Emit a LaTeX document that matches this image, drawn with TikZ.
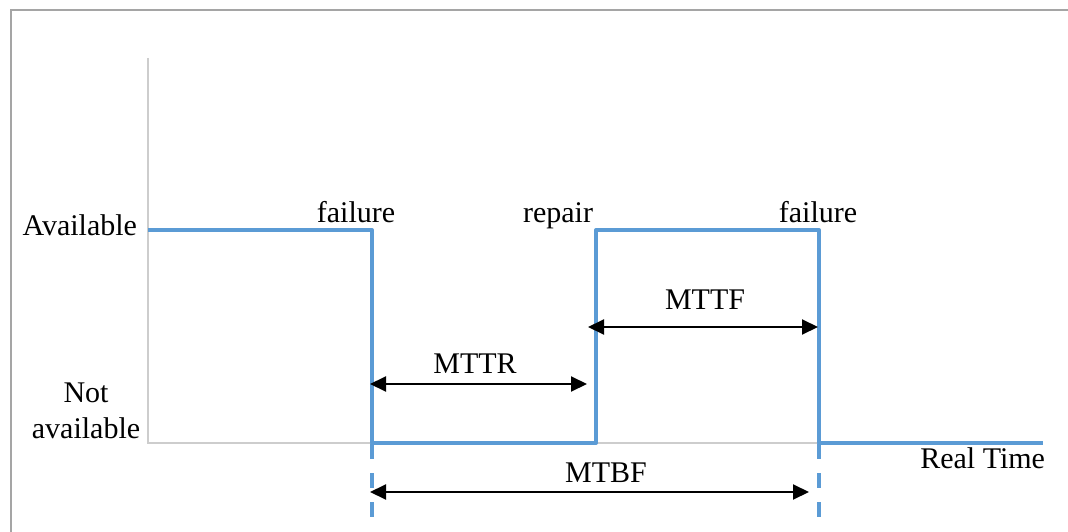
\documentclass[tikz,border=0pt]{standalone}
\usepackage{fontspec}
\setmainfont{Liberation Serif}
\usetikzlibrary{arrows.meta}
\definecolor{sigblue}{RGB}{91,155,213}
\definecolor{axisgray}{RGB}{205,205,205}
\definecolor{framegray}{RGB}{165,165,165}
\begin{document}
\begin{tikzpicture}[x=1pt,y=-1pt,
  lbl/.style={inner sep=0pt,outer sep=0pt,font=\fontsize{30}{36}\selectfont},
  signal/.style={draw=sigblue,line width=4pt,line join=round},
  dashmark/.style={draw=sigblue,line width=4pt,dash pattern=on 15pt off 14pt},
  axisline/.style={draw=axisgray,line width=1.5pt},
  dimarrow/.style={draw=black,line width=2pt,{Triangle[length=16pt,width=15pt]}-{Triangle[length=16pt,width=15pt]}}]
\useasboundingbox (0,0) rectangle (1068,532);
% frame
\draw[framegray,line width=1.5pt] (11,540) -- (11,10) -- (1075,10);
% axes
\coordinate (ytop) at (148,58);
\coordinate (origin) at (148,443);
\coordinate (xend) at (1043,443);
\draw[axisline] (ytop) -- (origin) -- (xend);
% signal
\coordinate (s0) at (148,230);
\coordinate (f1t) at (372,230);
\coordinate (f1b) at (372,443);
\coordinate (r1b) at (596,443);
\coordinate (r1t) at (596,230);
\coordinate (f2t) at (819,230);
\coordinate (f2b) at (819,443);
\coordinate (s1) at (1043,443);
\draw[signal] (s0) -- (f1t) -- (f1b) -- (r1b) -- (r1t) -- (f2t) -- (f2b) -- (s1);
% dashed extensions
\coordinate (d1a) at (372,444);
\coordinate (d1b) at (372,519);
\coordinate (d2a) at (819,444);
\coordinate (d2b) at (819,519);
\draw[dashmark] (d1a) -- (d1b);
\draw[dashmark] (d2a) -- (d2b);
% dimension arrows
\coordinate (mttrL) at (370,384);
\coordinate (mttrR) at (587,384);
\coordinate (mttfL) at (588,327);
\coordinate (mttfR) at (818,327);
\coordinate (mtbfL) at (370,492);
\coordinate (mtbfR) at (809,492);
\draw[dimarrow] (mttrL) -- (mttrR);
\draw[dimarrow] (mttfL) -- (mttfR);
\draw[dimarrow] (mtbfL) -- (mtbfR);
% labels
\node[lbl,anchor=base] (fail1) at (356,222) {failure};
\node[lbl,anchor=base] (rep) at (558,222) {repair};
\node[lbl,anchor=base] (fail2) at (818,222) {failure};
\node[lbl,anchor=base east] (avail) at (137,235) {Available};
\node[lbl,anchor=base] (notl) at (86,402) {Not};
\node[lbl,anchor=base] (notav) at (86,438) {available};
\node[lbl,anchor=base] (mttr) at (475,373) {MTTR};
\node[lbl,anchor=base] (mttf) at (705,309) {MTTF};
\node[lbl,anchor=base] (mtbf) at (606,482) {MTBF};
\node[lbl,anchor=base east] (rt) at (1045,468) {Real Time};
\end{tikzpicture}
\end{document}
